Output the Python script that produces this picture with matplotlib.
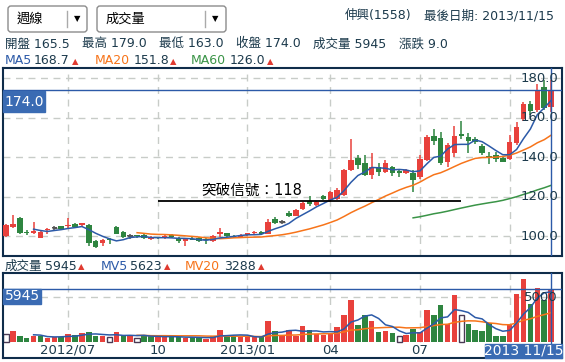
import matplotlib
matplotlib.use('Agg')
import matplotlib.pyplot as plt
from matplotlib.patches import Rectangle, FancyBboxPatch
from matplotlib.transforms import IdentityTransform
import numpy as np
import pandas as pd

plt.rcParams['font.family'] = ['DejaVu Sans', 'Noto Sans CJK TC']

# 伸興(1558) 週線 2012/05/04 ~ 2013/11/15
opens = [
    100.0, 104.7, 109.1, 102.2, 101.8, 99.2, 102.9, 104.1, 104.9, 104.9,
    106.1, 105.4, 105.7, 97.3, 96.3, 98.2, 104.6, 102.0, 99.8, 100.0,
    100.5, 98.3, 99.2, 98.9, 100.4, 99.2, 97.4, 98.6, 99.0, 98.6,
    97.5, 100.9, 101.4, 100.2, 99.6, 100.3, 101.4, 102.2, 101.0, 108.6,
    107.2, 111.8, 110.3, 113.6, 117.8, 115.8, 120.1, 118.3, 119.0, 120.8,
    133.4, 139.6, 136.8, 130.9, 135.1, 132.6, 135.0, 133.2, 132.1, 131.8,
    129.7, 138.8, 150.8, 149.5, 137.7, 141.9, 151.5, 150.3, 149.2, 145.7,
    140.5, 141.3, 139.6, 139.3, 147.2, 159.6, 167.2, 163.8, 175.6, 165.5,
]
highs = [
    106.0, 110.6, 109.5, 103.0, 107.2, 102.8, 104.1, 105.0, 105.3, 109.0,
    106.6, 106.8, 106.2, 97.8, 98.3, 98.8, 105.0, 102.5, 101.0, 100.6,
    101.0, 99.8, 99.6, 100.4, 100.8, 99.6, 98.9, 99.3, 99.4, 98.9,
    100.3, 104.0, 101.8, 100.6, 100.8, 101.8, 102.6, 102.6, 108.8, 109.5,
    108.4, 112.5, 113.8, 117.5, 120.1, 118.0, 120.8, 122.6, 124.4, 134.0,
    149.4, 141.0, 141.0, 142.0, 136.8, 138.4, 135.5, 134.0, 134.0, 133.4,
    141.0, 151.3, 154.3, 153.0, 147.0, 156.0, 158.4, 152.0, 150.0, 146.5,
    142.5, 142.6, 140.0, 151.0, 158.0, 168.0, 168.5, 177.3, 179.0, 179.0,
]
lows = [
    99.5, 104.0, 101.0, 100.5, 100.8, 98.8, 100.8, 103.0, 103.2, 104.3,
    104.0, 104.6, 95.0, 93.8, 95.0, 95.8, 101.0, 99.0, 98.5, 99.0,
    98.5, 98.0, 98.4, 98.6, 98.9, 96.5, 94.9, 97.8, 97.2, 96.2,
    97.2, 99.6, 99.4, 99.2, 99.4, 100.0, 101.0, 100.4, 100.8, 106.0,
    106.0, 109.8, 110.0, 113.2, 115.3, 115.3, 118.2, 117.5, 118.5, 120.5,
    133.0, 134.2, 130.2, 129.0, 130.2, 131.8, 130.6, 130.0, 131.6, 122.4,
    129.0, 138.0, 146.2, 135.8, 135.1, 140.2, 149.4, 141.9, 146.5, 141.3,
    136.3, 137.4, 137.3, 138.5, 146.0, 158.5, 161.5, 163.0, 164.0, 163.0,
]
closes = [
    105.6, 106.1, 101.7, 101.4, 102.7, 102.2, 103.7, 104.1, 103.6, 105.7,
    104.4, 106.4, 96.3, 94.3, 98.0, 98.0, 101.2, 99.3, 99.8, 99.8,
    98.8, 98.6, 98.9, 99.9, 99.3, 97.5, 98.4, 98.1, 97.6, 97.8,
    99.9, 101.9, 99.9, 99.6, 100.2, 101.5, 102.3, 100.8, 107.3, 106.6,
    107.2, 110.2, 113.3, 117.0, 116.1, 117.5, 118.7, 122.2, 123.6, 133.4,
    138.4, 135.9, 131.2, 135.0, 132.6, 137.1, 132.1, 132.1, 133.6, 128.2,
    139.3, 150.0, 148.3, 136.9, 146.1, 150.6, 150.6, 148.3, 147.7, 142.0,
    139.8, 139.0, 137.7, 147.7, 155.3, 167.2, 163.5, 173.9, 165.0, 174.0,
]
volumes = [
    900, 1270, 710, 450, 710, 710, 450, 520, 520, 935,
    820, 1000, 1120, 640, 640, 560, 1120, 710, 710, 490,
    710, 640, 600, 560, 520, 600, 450, 560, 450, 380,
    640, 1380, 710, 710, 520, 520, 520, 520, 2390, 1270,
    820, 1380, 710, 1830, 1380, 900, 820, 900, 1650, 3070,
    4750, 1950, 3070, 2320, 1080, 1200, 1010, 640, 820, 1500,
    1120, 3630, 3070, 4190, 2060, 5230, 3000, 2060, 1380, 1270,
    2100, 640, 640, 1870, 5380, 7100, 4260, 6060, 4750, 5945,
]

month_pos = [9, 22, 35, 47, 60, 73]
month_labels = ['2012/07', '10', '2013/01', '04', '07', '']
price_ticks = [100, 120, 140, 160, 180]
breakout = 118
last_close = 174.0
last_vol = 5945

UP = '#e8413c'
DOWN = '#2e8540'
TXT = '#1c3a4c'
FRAME = '#0f2c4a'
BLUE = '#2c5aa8'
ORANGE = '#f7741a'
GREEN = '#3a9447'
GRID = '#c8ccc8'
BOXBLUE = '#3a6bb3'

W, H = 565, 362
fig = plt.figure(figsize=(W / 100, H / 100), dpi=100)
PX = IdentityTransform()


def fr(x0, y0, x1, y1):
    return [x0 / W, 1 - y1 / H, (x1 - x0) / W, (y1 - y0) / H]


def txt(x, y, s, **kw):
    kw.setdefault('fontsize', 9)
    kw.setdefault('color', TXT)
    kw.setdefault('va', 'center')
    return fig.text(x, H - y, s, transform=PX, **kw)


def box(x0, y0, x1, y1, **kw):
    p = Rectangle((x0, H - y1), x1 - x0, y1 - y0, transform=PX, **kw)
    fig.add_artist(p)
    return p


n = len(closes)
idx = np.arange(n)
o, h, l, c = (np.array(v) for v in (opens, highs, lows, closes))
v = np.array(volumes)
XL = (-0.435, 80.58)

# ---------- price panel ----------
ax = fig.add_axes(fr(3, 68, 562, 256))
ax.set_xlim(*XL)
ax.set_ylim(89.9, 185.2)
ax.hlines(price_ticks, XL[0], XL[1], colors=GRID, lw=1, linestyles=(0, (5, 4)), zorder=0)
ax.vlines(month_pos, 89.9, 185.2, colors=GRID, lw=1, linestyles=(0, (5, 4)), zorder=0)

col = np.where(c > o, UP, np.where(c < o, DOWN, '#555555'))
ax.vlines(idx, l, h, colors=col, lw=1.1, zorder=2)
ax.bar(idx, np.maximum(np.abs(c - o), 0.5), bottom=np.minimum(o, c), width=0.8, color=col,
       linewidth=0, zorder=3)
flat = c == o
ax.hlines(c[flat], idx[flat] - 0.4, idx[flat] + 0.4, colors='#555555', lw=1, zorder=3)

s = pd.Series(closes)
ma5 = s.rolling(5).mean()
ma20 = s.rolling(20).mean()
ma60 = s.rolling(60).mean()
ax.plot(idx, ma60, color=GREEN, lw=1.1, zorder=4)
ax.plot(idx, ma20, color=ORANGE, lw=1.1, zorder=4)
ax.plot(idx, ma5, color=BLUE, lw=1.1, zorder=4)

ax.hlines(breakout, 22, 66, colors='black', lw=1.3, zorder=4)
ax.text(35.6, breakout + 1.2, '突破信號：%d' % breakout, fontsize=10.5, color='black',
        ha='center', va='bottom', zorder=5)

ax.axhline(last_close, color=BLUE, lw=1, zorder=5)
ax.axvline(n - 1, color=BLUE, lw=1, zorder=5)
for t in price_ticks:
    ax.text(0.9928, t, '%.1f' % t, transform=ax.get_yaxis_transform(), ha='right', va='center',
            fontsize=9.5, color=TXT, zorder=6)
ax.set_xticks([])
ax.set_yticks([])
for sp in ax.spines.values():
    sp.set_color(FRAME)
    sp.set_linewidth(1.5)

# ---------- volume panel ----------
axv = fig.add_axes(fr(3, 273, 562, 358))
axv.set_xlim(*XL)
axv.set_ylim(-1792, 7728)
axv.hlines(5000, XL[0], XL[1], colors=GRID, lw=1, linestyles=(0, (5, 4)), zorder=0)
axv.vlines(month_pos, 0, 7728, colors=GRID, lw=1, linestyles=(0, (5, 4)), zorder=0)

chg = np.sign(np.diff(c, prepend=c[0]))
vface = np.where(chg > 0, UP, np.where(chg < 0, DOWN, 'white'))
vedge = np.where(chg == 0, '#4a3a55', 'none')
axv.bar(idx, v, width=0.8, color=vface, edgecolor=vedge, linewidth=1, zorder=2)

vs = pd.Series(volumes)
axv.plot(idx, vs.rolling(20).mean(), color=ORANGE, lw=1.1, zorder=3)
axv.plot(idx, vs.rolling(5).mean(), color=BLUE, lw=1.1, zorder=3)
axv.axhline(last_vol, color=BLUE, lw=1, zorder=4)
axv.axvline(n - 1, color=BLUE, lw=1, zorder=4)
axv.text(0.9928, 5000, '5000', transform=axv.get_yaxis_transform(), ha='right', va='center',
         fontsize=9.5, color=TXT, zorder=6)
for p, lab in zip(month_pos, month_labels):
    axv.text(p, -950, lab, ha='center', va='center', fontsize=9.5, color=TXT)
axv.set_xticks([])
axv.set_yticks([])
for sp in axv.spines.values():
    sp.set_color(FRAME)
    sp.set_linewidth(1.5)

# value tags
box(3, 91, 45, 112, color=BOXBLUE, zorder=10)
txt(24, 101.5, '%.1f' % last_close, color='white', fontsize=10, ha='center', zorder=11)
box(3, 289, 41, 304, color=BOXBLUE, zorder=10)
txt(22, 296.5, str(last_vol), color='white', fontsize=10, ha='center', zorder=11)
box(485, 344, 562, 358, color=BOXBLUE, zorder=10)
txt(523.5, 351, '2013 11/15', color='white', fontsize=10, ha='center', zorder=11)

# ---------- header ----------
for x0, x1, sep, label in [(8, 87, 67, '週線'), (97, 226, 205, '成交量')]:
    fig.add_artist(FancyBboxPatch((x0, H - 32), x1 - x0, 26, boxstyle='round,pad=0,rounding_size=3',
                                  transform=PX, fc='white', ec='#8c8c8c', lw=1))
    fig.add_artist(plt.Line2D([sep, sep], [H - 27, H - 11], transform=PX, color='#aaaaaa', lw=1))
    txt(x0 + 9, 19, label, fontsize=9.5, color='black')
    txt((sep + x1) / 2, 19, '▼', fontsize=6, color='black', ha='center')

txt(345, 16, '伸興(1558)')
txt(424, 16, '最後日期: 2013/11/15')

row2 = [(5, '開盤 165.5'), (82, '最高 179.0'), (159, '最低 163.0'), (236, '收盤 174.0'),
        (313, '成交量 5945'), (399, '漲跌 9.0')]
for x, t in row2:
    txt(x, 44, t)

row3 = [(5, 'MA5', BLUE, 34, '168.7', 72), (95, 'MA20', ORANGE, 134, '151.8', 170),
        (191, 'MA60', GREEN, 230, '126.0', 267)]
for x, lab, colr, xn, val, xt in row3:
    txt(x, 61, lab, color=colr)
    txt(xn, 61, val)
    txt(xt, 62, '▲', color='#e03a30', fontsize=6)

row4 = [(5, '成交量', TXT, 45, '5945', 78), (101, 'MV5', BLUE, 130, '5623', 164),
        (185, 'MV20', ORANGE, 224, '3288', 258)]
for x, lab, colr, xn, val, xt in row4:
    txt(x, 266, lab, color=colr)
    txt(xn, 266, val)
    txt(xt, 267, '▲', color='#e03a30', fontsize=6)

fig.savefig('out.png', dpi=100)
